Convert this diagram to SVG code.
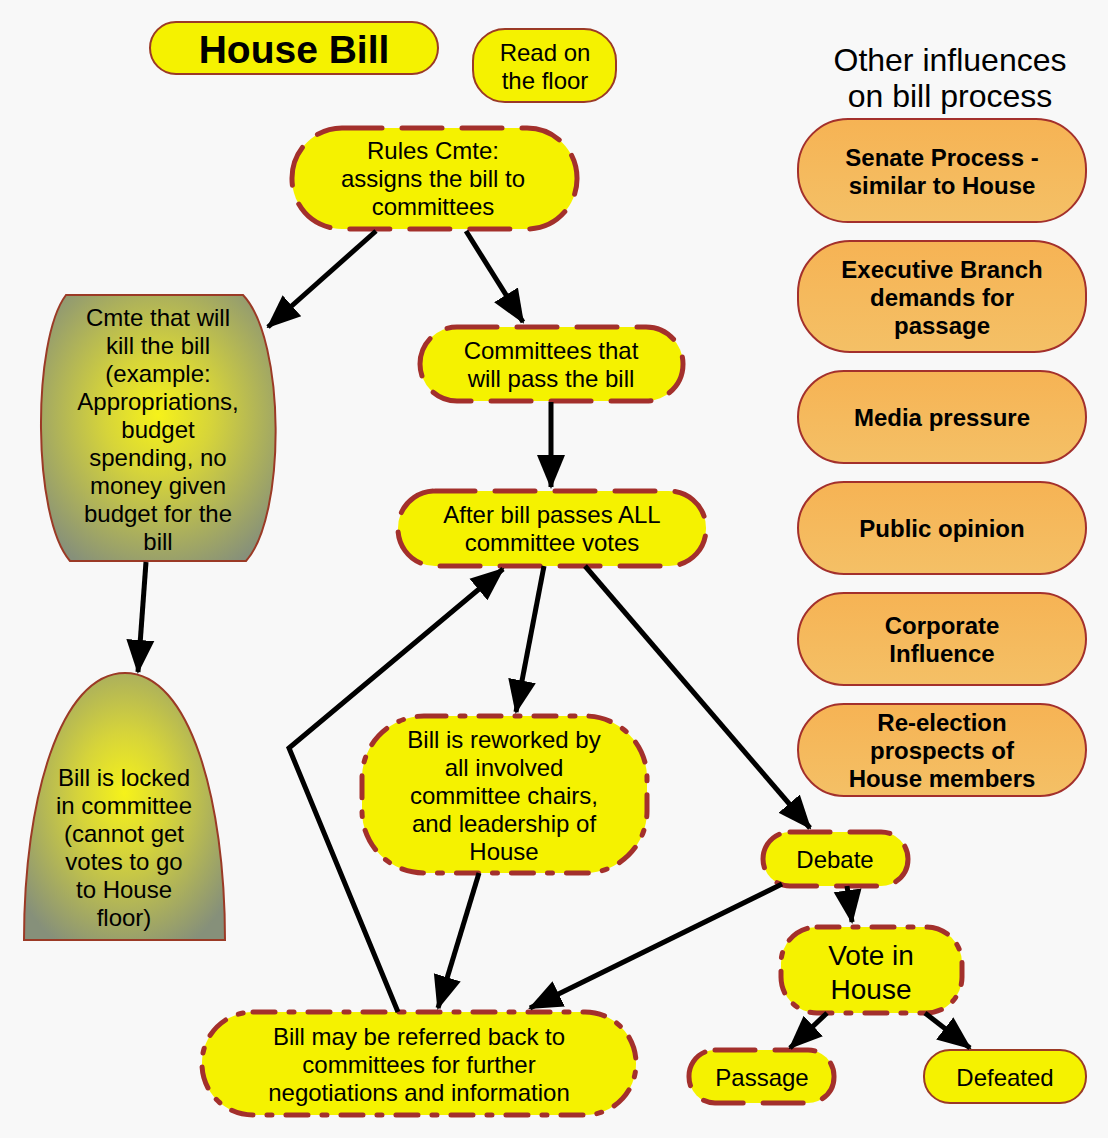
<svg xmlns="http://www.w3.org/2000/svg" width="1108" height="1138" viewBox="0 0 1108 1138">
<defs>
<radialGradient id="olive" cx="50%" cy="45%" r="65%">
<stop offset="0" stop-color="#f6f21a"/>
<stop offset="0.35" stop-color="#d6d43a"/>
<stop offset="1" stop-color="#86907a"/>
</radialGradient>
<linearGradient id="orange" x1="0" y1="0" x2="0" y2="1">
<stop offset="0" stop-color="#f6b354"/>
<stop offset="1" stop-color="#f4c066"/>
</linearGradient>
<marker id="arr" markerUnits="userSpaceOnUse" markerWidth="34" markerHeight="34" viewBox="0 0 34 34" refX="32" refY="17" orient="auto">
<path d="M0 3 L34 17 L0 31 Z" fill="#000"/>
</marker>
</defs>
<style>
text{font-family:"Liberation Sans",Arial,sans-serif;fill:#000;text-anchor:middle;dominant-baseline:central}
.t{font-size:24px}
.b{font-size:24px;font-weight:bold}
.y{fill:#f5f200}
.thin{stroke:#9b3a26;stroke-width:2}
.dash{stroke:#a3302c;stroke-width:5;stroke-dasharray:40 20;stroke-linecap:round}
.dd{stroke:#a3302c;stroke-width:5;stroke-dasharray:22 14 5 14;stroke-linecap:round}
.or{fill:url(#orange);stroke:#a3302c;stroke-width:2}
.c{stroke:#000;stroke-width:5;fill:none;marker-end:url(#arr)}
</style>
<rect width="1108" height="1138" fill="#f8f8f8"/>

<g id="house-bill">
<rect x="150" y="22" width="288" height="52" rx="26" class="y thin"/>
<text x="294" y="49" style="font-size:39px;font-weight:bold">House Bill</text>
</g>
<g id="read-floor">
<rect x="473" y="29" width="143" height="73" rx="32" class="y thin"/>
<text x="545" y="52" class="t">Read on</text>
<text x="545" y="80" class="t">the floor</text>
</g>
<g id="rules">
<rect x="292" y="128" width="285" height="101" rx="50" class="y dash"/>
<text x="433" y="150" class="t">Rules Cmte:</text>
<text x="433" y="178" class="t">assigns the bill to</text>
<text x="433" y="206" class="t">committees</text>
</g>
<g id="kill">
<path d="M66 295 L243 295 C286 340 286 517 246 561 L70 561 C32 517 32 340 66 295 Z" fill="url(#olive)" class="thin"/>
<text x="158" y="317" class="t">Cmte that will</text>
<text x="158" y="345" class="t">kill the bill</text>
<text x="158" y="373" class="t">(example:</text>
<text x="158" y="401" class="t">Appropriations,</text>
<text x="158" y="429" class="t">budget</text>
<text x="158" y="457" class="t">spending, no</text>
<text x="158" y="485" class="t">money given</text>
<text x="158" y="513" class="t">budget for the</text>
<text x="158" y="541" class="t">bill</text>
</g>
<g id="locked">
<path d="M24 940 C24 800 60 673 125 673 C190 673 225 800 225 940 Z" fill="url(#olive)" class="thin"/>
<text x="124" y="777" class="t">Bill is locked</text>
<text x="124" y="805" class="t">in committee</text>
<text x="124" y="833" class="t">(cannot get</text>
<text x="124" y="861" class="t">votes to go</text>
<text x="124" y="889" class="t">to House</text>
<text x="124" y="917" class="t">floor)</text>
</g>
<g id="pass-cmte">
<rect x="420" y="327" width="263" height="74" rx="37" class="y dash"/>
<text x="551" y="350" class="t">Committees that</text>
<text x="551" y="378" class="t">will pass the bill</text>
</g>
<g id="after">
<rect x="398" y="491" width="308" height="75" rx="37" class="y dash"/>
<text x="552" y="514" class="t">After bill passes ALL</text>
<text x="552" y="542" class="t">committee votes</text>
</g>
<g id="reworked">
<rect x="362" y="716" width="285" height="157" rx="62" class="y dd"/>
<text x="504" y="739" class="t">Bill is reworked by</text>
<text x="504" y="767" class="t">all involved</text>
<text x="504" y="795" class="t">committee chairs,</text>
<text x="504" y="823" class="t">and leadership of</text>
<text x="504" y="851" class="t">House</text>
</g>
<g id="referred">
<rect x="202" y="1012" width="434" height="103" rx="51" class="y dd"/>
<text x="419" y="1036" class="t">Bill may be referred back to</text>
<text x="419" y="1064" class="t">committees for further</text>
<text x="419" y="1092" class="t">negotiations and information</text>
</g>
<g id="debate">
<rect x="763" y="832" width="145" height="54" rx="27" class="y dash"/>
<text x="835" y="859" class="t">Debate</text>
</g>
<g id="vote">
<rect x="781" y="927" width="181" height="86" rx="36" class="y dd"/>
<text x="871" y="955" style="font-size:28px">Vote in</text>
<text x="871" y="989" style="font-size:28px">House</text>
</g>
<g id="passage">
<rect x="689" y="1050" width="145" height="53" rx="26" class="y dash"/>
<text x="762" y="1077" class="t">Passage</text>
</g>
<g id="defeated">
<rect x="924" y="1050" width="162" height="53" rx="26" class="y thin"/>
<text x="1005" y="1077" class="t">Defeated</text>
</g>

<g id="other-title">
<text x="950" y="60" style="font-size:32px">Other influences</text>
<text x="950" y="96" style="font-size:32px">on bill process</text>
</g>
<g id="senate">
<rect x="798" y="119" width="288" height="103" rx="50" class="or"/>
<text x="942" y="157" class="b">Senate Process -</text>
<text x="942" y="185" class="b">similar to House</text>
</g>
<g id="executive">
<rect x="798" y="241" width="288" height="111" rx="52" class="or"/>
<text x="942" y="269" class="b">Executive Branch</text>
<text x="942" y="297" class="b">demands for</text>
<text x="942" y="325" class="b">passage</text>
</g>
<g id="media">
<rect x="798" y="371" width="288" height="92" rx="46" class="or"/>
<text x="942" y="417" class="b">Media pressure</text>
</g>
<g id="public">
<rect x="798" y="482" width="288" height="92" rx="46" class="or"/>
<text x="942" y="528" class="b">Public opinion</text>
</g>
<g id="corporate">
<rect x="798" y="593" width="288" height="92" rx="46" class="or"/>
<text x="942" y="625" class="b">Corporate</text>
<text x="942" y="653" class="b">Influence</text>
</g>
<g id="reelection">
<rect x="798" y="704" width="288" height="92" rx="46" class="or"/>
<text x="942" y="722" class="b">Re-election</text>
<text x="942" y="750" class="b">prospects of</text>
<text x="942" y="778" class="b">House members</text>
</g>

<g id="connectors">
<line x1="376" y1="231" x2="268" y2="327" class="c"/>
<line x1="466" y1="231" x2="523" y2="322" class="c"/>
<line x1="551" y1="402" x2="551" y2="487" class="c"/>
<line x1="146" y1="562" x2="138" y2="672" class="c"/>
<line x1="544" y1="566" x2="516" y2="712" class="c"/>
<line x1="585" y1="566" x2="810" y2="828" class="c"/>
<line x1="479" y1="873" x2="438" y2="1008" class="c"/>
<line x1="782" y1="884" x2="530" y2="1008" class="c"/>
<line x1="847" y1="886" x2="852" y2="922" class="c"/>
<polyline points="398,1012 289,748 503,569" class="c"/>
<line x1="827" y1="1013" x2="790" y2="1048" class="c"/>
<line x1="925" y1="1013" x2="970" y2="1048" class="c"/>
</g>
</svg>
